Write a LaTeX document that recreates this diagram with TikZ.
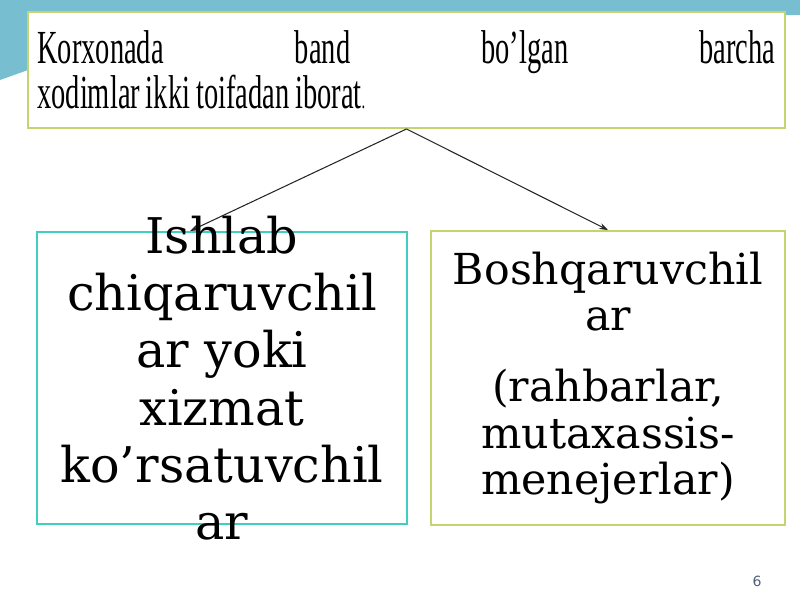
\documentclass[tikz,border=0pt]{standalone}
\usepackage{fontspec}
\setmainfont{DejaVu Serif}
\newfontfamily\narrowserif[FakeStretch=0.6]{Liberation Serif}
\newfontfamily\numfont{DejaVu Sans}
\usetikzlibrary{arrows.meta}
\definecolor{limeline}{RGB}{196,212,110}
\definecolor{tealline}{RGB}{64,206,190}
\definecolor{slideteal}{RGB}{118,190,208}
\definecolor{pagenum}{RGB}{80,96,120}

\begin{document}
\begin{tikzpicture}[
  framebox/.style={draw=#1, line width=1.1pt, inner sep=0pt},
  branch/.style={draw=black!85, line width=0.6pt, -{Stealth[length=5pt,width=3.5pt]}},
  boxtext/.style={align=center, inner sep=0pt}
  ]
  \useasboundingbox (0,0) rectangle (16,-12);
  \fill[slideteal] (0,0) -- (16,0) -- (16,-0.3) -- (0.56,-0.3) -- (0.56,-1.4) -- (0,-1.6) -- cycle;
  \node[framebox=limeline, minimum width=15.14cm, minimum height=2.32cm, fill=white] (title) at (8.13,-1.4) {};
  \node[framebox=tealline, minimum width=7.4cm, minimum height=5.84cm] (workers) at (4.44,-7.56) {};
  \node[framebox=limeline, minimum width=7.08cm, minimum height=5.88cm] (managers) at (12.16,-7.56) {};
  \draw[branch] (title.south) -- ([xshift=-0.64cm]workers.north);
  \draw[branch] (title.south) -- (managers.north);
  \node[anchor=north west, inner sep=0pt, text width=14.76cm, align=left] (titletext) at (0.74,-0.6)
    {\narrowserif\fontsize{27}{28.3}\selectfont Korxonada\hfill band\hfill bo’lgan\hfill barcha\\
     xodimlar ikki toifadan iborat{\fontsize{14}{14}\selectfont.}};
  \node[boxtext, font=\fontsize{28}{32.6}\selectfont] (workerstext) at (workers.center)
    {Ishlab\\ chiqaruvchil\\ ar yoki\\ xizmat\\ ko’rsatuvchil\\ ar};
  \node[boxtext, font=\fontsize{24.3}{26.2}\selectfont] (managerstext) at (managers.center)
    {Boshqaruvchil\\ ar\\[0.5cm] (rahbarlar,\\ mutaxassis-\\ menejerlar)};
  \node[text=pagenum, inner sep=0pt, font=\numfont\fontsize{8}{8}\selectfont] (page) at (15.14,-11.62) {6};
\end{tikzpicture}
\end{document}
